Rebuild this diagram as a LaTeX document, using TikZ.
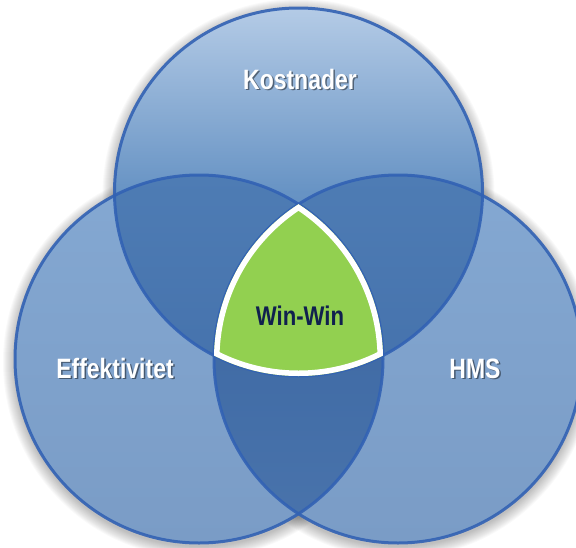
\documentclass[tikz,border=0pt]{standalone}
\usepackage{fontspec}
\newfontfamily\lab{Liberation Sans}[FakeStretch=0.82]
\definecolor{ktop}{RGB}{180,203,230}
\definecolor{cmid}{RGB}{103,147,196}
\definecolor{stop}{RGB}{132,168,210}
\definecolor{sbot}{RGB}{122,156,198}
\definecolor{otop}{RGB}{78,124,180}
\definecolor{obot}{RGB}{62,106,166}
\definecolor{ltop}{RGB}{56,100,160}
\definecolor{lbot}{RGB}{74,116,172}
\definecolor{cline}{RGB}{50,98,180}
\definecolor{wwgreen}{RGB}{146,208,80}
\definecolor{navy}{RGB}{16,32,78}
\tikzset{
  sidefill/.style={top color=stop, middle color=cmid, bottom color=sbot, draw=none},
  topfill/.style={top color=ktop, bottom color=cmid!85!black, middle color=cmid, draw=none},
  overfill/.style={top color=otop, bottom color=obot, draw=none},
  lensfill/.style={top color=ltop, bottom color=lbot, draw=none},
  circline/.style={draw=cline, line width=3pt, draw opacity=0.9},
  labeltxt/.style={inner sep=0pt, anchor=base, text=white, font=\lab\bfseries\fontsize{28}{30}\selectfont},
  labelshadow/.style={inner sep=0pt, anchor=base, text=black, text opacity=0.45, font=\lab\bfseries\fontsize{28}{30}\selectfont},
  wwtxt/.style={inner sep=0pt, anchor=base, text=navy, font=\lab\bfseries\fontsize{27}{29}\selectfont}
}
\begin{document}
\begin{tikzpicture}[x=1pt,y=-1pt]
\useasboundingbox (0,0) rectangle (576,547);
\clip (0,0) rectangle (576,547);
\coordinate (K) at (298.5,192);
\coordinate (E) at (199,359);
\coordinate (H) at (398,359);
% soft shadows
\foreach \rr in {185,...,196}{
  \foreach \c in {K,E,H}{
    \fill[black, opacity=0.025] ([yshift=-3pt]\c) circle[radius=\rr pt];
  }
}
% circles
\shade[sidefill] (E) circle[radius=184pt];
\shade[sidefill] (H) circle[radius=184pt];
\shade[topfill] (K) circle[radius=184pt];
% pairwise overlaps
\begin{scope}
  \clip (K) circle[radius=184pt];
  \shade[overfill] (E) circle[radius=184pt];
  \shade[overfill] (H) circle[radius=184pt];
\end{scope}
\begin{scope}
  \clip (E) circle[radius=184pt];
  \clip (0,355) rectangle (576,547);
  \shade[lensfill] (H) circle[radius=184pt];
\end{scope}
% outlines
\foreach \c in {E,H,K}{
  \draw[circline] (\c) circle[radius=184pt];
}
% shadow of the green region
\begin{scope}[yshift=-4pt]
  \clip (K) circle[radius=184pt];
  \clip (E) circle[radius=184pt];
  \fill[navy, opacity=0.55] (H) circle[radius=184pt];
\end{scope}
% green intersection
\begin{scope}
  \clip (K) circle[radius=184pt];
  \clip (E) circle[radius=184pt];
  \clip (H) circle[radius=184pt];
  \fill[wwgreen] (K) circle[radius=184pt];
  \draw[white, line width=11pt] (K) circle[radius=184pt] (E) circle[radius=184pt] (H) circle[radius=184pt];
\end{scope}
% labels
\node[labelshadow] (sK) at (301.5,90.5) {Kostnader};
\node[labeltxt] (tK) at (300,89) {Kostnader};
\node[labelshadow] (sE) at (116.5,379.5) {Effektivitet};
\node[labeltxt] (tE) at (115,378) {Effektivitet};
\node[labelshadow] (sH) at (476.5,379.5) {HMS};
\node[labeltxt] (tH) at (475,378) {HMS};
\node[wwtxt] (tW) at (300,325) {Win-Win};
\end{tikzpicture}
\end{document}
